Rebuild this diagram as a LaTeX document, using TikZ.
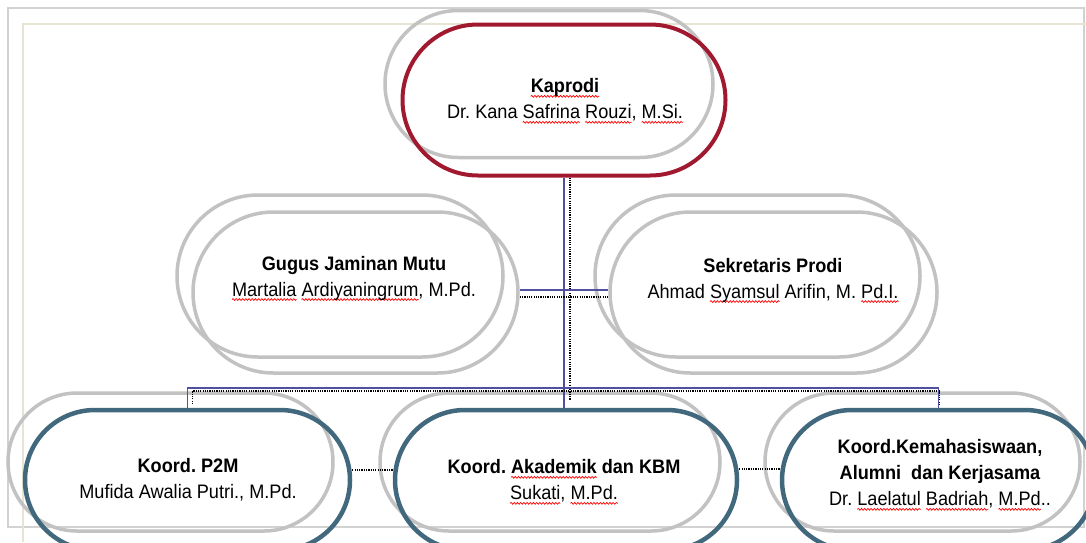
\documentclass[tikz,border=0pt]{standalone}
\usepackage{fontspec}
\setmainfont[FakeStretch=0.93]{Liberation Sans}
\usetikzlibrary{shapes.misc,decorations.pathmorphing}
\definecolor{shgray}{HTML}{C2C2C2}
\definecolor{kred}{HTML}{A0192F}
\definecolor{kblue}{HTML}{42687D}
\definecolor{lnblue}{HTML}{50509E}
\definecolor{frgray}{HTML}{D2D2D2}
\definecolor{beige}{HTML}{E8E4D4}
\frenchspacing
\newlength\sqlen
\newcommand\sq[1]{\settowidth{\sqlen}{#1}\rlap{\tikz[overlay,x=1pt,y=1pt,baseline=0pt]{\draw[red,line width=0.7pt,decorate,decoration={snake,amplitude=0.9pt,segment length=3.2pt}] (0,-3.5) -- (\sqlen,-3.5);}}#1}
\tikzset{
  shadowsh/.style={rounded rectangle, draw=shgray, line width=3.5pt, inner sep=0pt},
  mainsh/.style={rounded rectangle, line width=4pt, inner sep=0pt},
  redsh/.style={mainsh, draw=kred},
  graysh/.style={mainsh, draw=shgray, line width=3.5pt},
  bluesh/.style={mainsh, draw=kblue, line width=4.5pt},
  lbl/.style={align=center, font=\fontsize{19.5}{26}\selectfont, inner sep=0pt},
  conn/.style={draw=lnblue, line width=1.2pt},
  dotc/.style={draw=black, line width=1.5pt, dash pattern=on 1.2pt off 1.1pt},
}
\begin{document}
\begin{tikzpicture}[x=1pt,y=-1pt]
\useasboundingbox (0,0) rectangle (1086,542);
% frames
\draw[frgray, line width=2pt] (8,8) rectangle (1084,527);
\draw[beige, line width=1.5pt] (23,542) -- (23,24) -- (1086,24);
% shadows
\node[shadowsh, minimum width=328pt, minimum height=147pt] (kaps) at (549,84) {};
\node[shadowsh, minimum width=326pt, minimum height=162pt] (gugs) at (340,276) {};
\node[shadowsh, minimum width=325pt, minimum height=162pt] (seks) at (757.5,276) {};
\node[shadowsh, minimum width=325pt, minimum height=138pt] (p2ms) at (170.5,462) {};
\node[shadowsh, minimum width=340pt, minimum height=138pt] (akas) at (550,462) {};
\node[shadowsh, minimum width=315pt, minimum height=138pt] (kems) at (922.5,462) {};
% main shapes
\node[redsh, minimum width=323pt, minimum height=151pt] (kap) at (564,100) {};
\node[graysh, minimum width=325pt, minimum height=161pt] (gug) at (355.5,292.5) {};
\node[graysh, minimum width=327pt, minimum height=161pt] (sek) at (773.5,292.5) {};
\node[bluesh, minimum width=325pt, minimum height=140pt] (p2m) at (187.5,480) {};
\node[bluesh, minimum width=342pt, minimum height=140pt] (aka) at (566,480) {};
\node[bluesh, minimum width=313pt, minimum height=140pt] (kem) at (938.5,480) {};
% texts
\node[lbl] (tkap) at (565,100) {\textbf{\sq{Kaprodi}}\\Dr. Kana \sq{Safrina} \sq{Rouzi}, \sq{M.Si.}};
\node[lbl] (tgug) at (354,278) {\textbf{Gugus Jaminan Mutu}\\\sq{Martalia} \sq{Ardiyaningrum}, M.Pd.};
\node[lbl] (tsek) at (773,280) {\textbf{Sekretaris Prodi}\\Ahmad \sq{Syamsul} Arifin, M. \sq{Pd.I.}};
\node[lbl] (tp2m) at (188,480) {\textbf{Koord. P2M}\\Mufida Awalia Putri., M.Pd.};
\node[lbl] (taka) at (564,481) {\textbf{Koord. \sq{Akademik} dan KBM}\\\sq{Sukati}, \sq{M.Pd.}};
\node[lbl] (tkem) at (940,474) {\textbf{Koord.Kemahasiswaan,}\\\textbf{Alumni\ \ dan Kerjasama}\\Dr. \sq{Laelatul} \sq{Badriah}, \sq{M.Pd}..};
% connectors
\coordinate (bus) at (0,388);
\coordinate (dbus) at (0,391);
\coordinate (dend) at (0,400);
\coordinate (dend2) at (0,404);
\draw[conn] (kap.south) -- (kap.south |- aka.north);
\draw[dotc] ([xshift=6pt]kap.south) -- ([xshift=6pt]kap.south |- dend);
\draw[conn] ([yshift=2.5pt]gug.east) -- ([yshift=2.5pt]gug.east -| sek.west);
\draw[dotc] ([yshift=-4.5pt]gug.east) -- ([yshift=-4.5pt]gug.east -| sek.west);
\draw[conn] (p2m.north) -- (p2m.north |- bus) -- (kem.north |- bus) -- (kem.north);
\draw[dotc] ([xshift=5pt]p2m.north |- dend2) -- ([xshift=5pt]p2m.north |- dbus) -- ([xshift=1pt]kem.north |- dbus) -- ([xshift=1pt]kem.north |- dend2);
\draw[dotc] ([yshift=10pt]p2m.east) -- ([yshift=10pt]p2m.east -| aka.west);
\draw[dotc] ([yshift=11pt]aka.east) -- ([yshift=11pt]aka.east -| kem.west);
\end{tikzpicture}
\end{document}
